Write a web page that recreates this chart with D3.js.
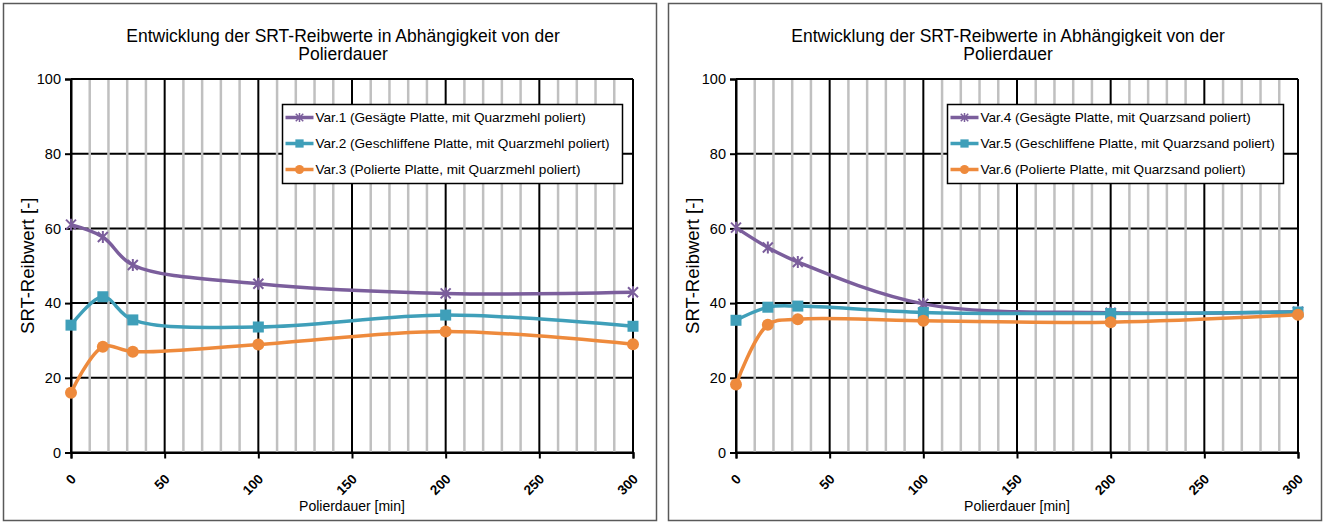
<!DOCTYPE html>
<html>
<head>
<meta charset="utf-8">
<script src="https://cdn.jsdelivr.net/npm/d3@7"></script>
<style>
  body { margin: 0; background: #fff; }
  svg text { font-family: "Liberation Sans", Arial, sans-serif; fill: #000; }
</style>
</head>
<body>
<div id="chart"></div>
<script>
// values
const minutes = [0, 17, 33, 100, 200, 300];

const var1 = [61.0, 57.7, 50.2, 45.2, 42.6, 42.9];
const var2 = [34.1, 41.7, 35.5, 33.6, 36.8, 33.8];
const var3 = [16.0, 28.3, 27.0, 28.9, 32.4, 29.0];

const var4 = [60.2, 54.9, 51.0, 39.8, 37.4, 37.7];
const var5 = [35.4, 38.9, 39.2, 37.5, 37.2, 37.6];
const var6 = [18.2, 34.2, 35.7, 35.3, 34.9, 36.9];

const leftLabels = [
  "Var.1 (Gesägte Platte, mit Quarzmehl poliert)",
  "Var.2 (Geschliffene Platte, mit Quarzmehl poliert)",
  "Var.3 (Polierte Platte, mit Quarzmehl poliert)"
];
const rightLabels = [
  "Var.4 (Gesägte Platte, mit Quarzsand poliert)",
  "Var.5 (Geschliffene Platte, mit Quarzsand poliert)",
  "Var.6 (Polierte Platte, mit Quarzsand poliert)"
];

const yTicks = [0, 20, 40, 60, 80, 100];
const xTicks = [0, 50, 100, 150, 200, 250, 300];
const xMinor = d3.range(0, 301, 10);

const titleLines = ["Entwicklung der SRT-Reibwerte in Abhängigkeit von der", "Polierdauer"];
const xTitle = "Polierdauer [min]";
const yTitle = "SRT-Reibwert [-]";

const colors = ["#7b5e9c", "#3f9fb9", "#ee8a3c"];
const markers = ["star", "square", "circle"];

const width = 1326, height = 524;

const svg = d3.select("#chart").append("svg")
  .attr("width", width)
  .attr("height", height);

drawPanel(3.5, [var1, var2, var3], leftLabels, 340);
drawPanel(668.5, [var4, var5, var6], rightLabels, 336);

function drawMarker(sel, type, color) {
  if (type === "circle") {
    sel.append("circle").attr("r", 6).attr("fill", color);
  } else if (type === "square") {
    sel.append("rect").attr("x", -5.5).attr("y", -5.5)
      .attr("width", 11).attr("height", 11).attr("fill", color);
  } else {
    sel.append("path")
      .attr("d", "M-5,-5L5,5M-5,5L5,-5M0,-6L0,6")
      .attr("stroke", color).attr("stroke-width", 2).attr("fill", "none");
  }
}

function drawPanel(left, series, labels, legendW) {
  let panel = svg.append("g").attr("transform", "translate(" + left + ",3.5)");
  let pw = 653, ph = 517;

  panel.append("rect")
    .attr("width", pw).attr("height", ph)
    .attr("fill", "#fff").attr("stroke", "#595959").attr("stroke-width", 1.5);

  // plot area, relative to panel
  let px0 = 67.5, px1 = 629.5, py0 = 75.5, py1 = 449;

  let x = d3.scaleLinear().domain([0, 300]).range([px0, px1]);
  let y = d3.scaleLinear().domain([0, 100]).range([py1, py0]);

  // title
  panel.append("text")
    .attr("y", 38)
    .attr("text-anchor", "middle").attr("font-size", 17.5)
    .selectAll("tspan").data(titleLines).join("tspan")
    .attr("x", (px0 + px1) / 2 - 9)
    .attr("dy", (d, i) => i ? 18 : 0)
    .text(d => d);

  // grid: horizontal majors, then minor verticals, then major verticals
  panel.append("g").selectAll("line").data(yTicks).join("line")
    .attr("x1", px0).attr("x2", px1)
    .attr("y1", d => y(d)).attr("y2", d => y(d))
    .attr("stroke", "#000").attr("stroke-width", 2);

  panel.append("g").selectAll("line").data(xMinor.filter(d => d % 50)).join("line")
    .attr("x1", d => x(d)).attr("x2", d => x(d))
    .attr("y1", py0 + 1).attr("y2", py1 - 1)
    .attr("stroke", "#c0c0c0").attr("stroke-width", 2.5);

  panel.append("g").selectAll("line").data(xTicks).join("line")
    .attr("x1", d => x(d)).attr("x2", d => x(d))
    .attr("y1", py0).attr("y2", py1)
    .attr("stroke", "#000").attr("stroke-width", 2);

  // axes
  let yAxis = panel.append("g")
    .attr("transform", "translate(" + px0 + ",0)")
    .call(d3.axisLeft(y).tickValues(yTicks).tickSize(6).tickPadding(4));
  let xAxis = panel.append("g")
    .attr("transform", "translate(0," + py1 + ")")
    .call(d3.axisBottom(x).tickValues(xTicks).tickSize(6));

  [yAxis, xAxis].forEach(a => {
    a.select(".domain").attr("stroke", "#000").attr("stroke-width", 2);
    a.selectAll(".tick line").attr("stroke", "#000").attr("stroke-width", 2);
  });
  yAxis.selectAll(".tick text")
    .attr("font-size", 14.5).attr("font-family", "Liberation Sans, Arial, sans-serif")
    .attr("fill", "#000");
  xAxis.selectAll(".tick text")
    .attr("font-size", 13.5).attr("font-weight", "bold")
    .attr("font-family", "Liberation Sans, Arial, sans-serif")
    .attr("fill", "#000")
    .attr("text-anchor", "end")
    .attr("x", 0).attr("y", 0)
    .attr("dy", "0.35em")
    .attr("transform", "translate(2,24) rotate(-45)");

  // axis titles
  panel.append("text")
    .attr("x", (px0 + px1) / 2).attr("y", 507)
    .attr("text-anchor", "middle").attr("font-size", 14)
    .text(xTitle);
  panel.append("text")
    .attr("transform", "translate(30," + ((py0 + py1) / 2) + ") rotate(-90)")
    .attr("text-anchor", "middle").attr("font-size", 18.5)
    .text(yTitle);

  // series
  let line = d3.line()
    .x((d, i) => x(minutes[i]))
    .y(d => y(d))
    .curve(d3.curveCatmullRom.alpha(0.5));

  series.forEach((vals, k) => {
    let g = panel.append("g");
    g.append("path")
      .datum(vals)
      .attr("d", line)
      .attr("fill", "none")
      .attr("stroke", colors[k])
      .attr("stroke-width", 3.5);
    g.selectAll("g.pt").data(vals).join("g")
      .attr("class", "pt")
      .attr("transform", (d, i) => "translate(" + x(minutes[i]) + "," + y(d) + ")")
      .each(function() { drawMarker(d3.select(this), markers[k], colors[k]); });
  });

  // legend
  let legend = panel.append("g").attr("transform", "translate(279,101)");
  legend.append("rect")
    .attr("width", legendW).attr("height", 79)
    .attr("fill", "#fff").attr("stroke", "#000").attr("stroke-width", 1.5);
  labels.forEach((lab, k) => {
    let row = legend.append("g").attr("transform", "translate(0," + (13 + k * 26) + ")");
    row.append("line")
      .attr("x1", 3).attr("x2", 31)
      .attr("stroke", colors[k]).attr("stroke-width", 3.5);
    let m = row.append("g").attr("transform", "translate(17,0) scale(0.75)");
    drawMarker(m, markers[k], colors[k]);
    row.append("text")
      .attr("x", 33).attr("dy", "0.35em")
      .attr("font-size", 13.6)
      .text(lab);
  });
}
</script>
</body>
</html>
